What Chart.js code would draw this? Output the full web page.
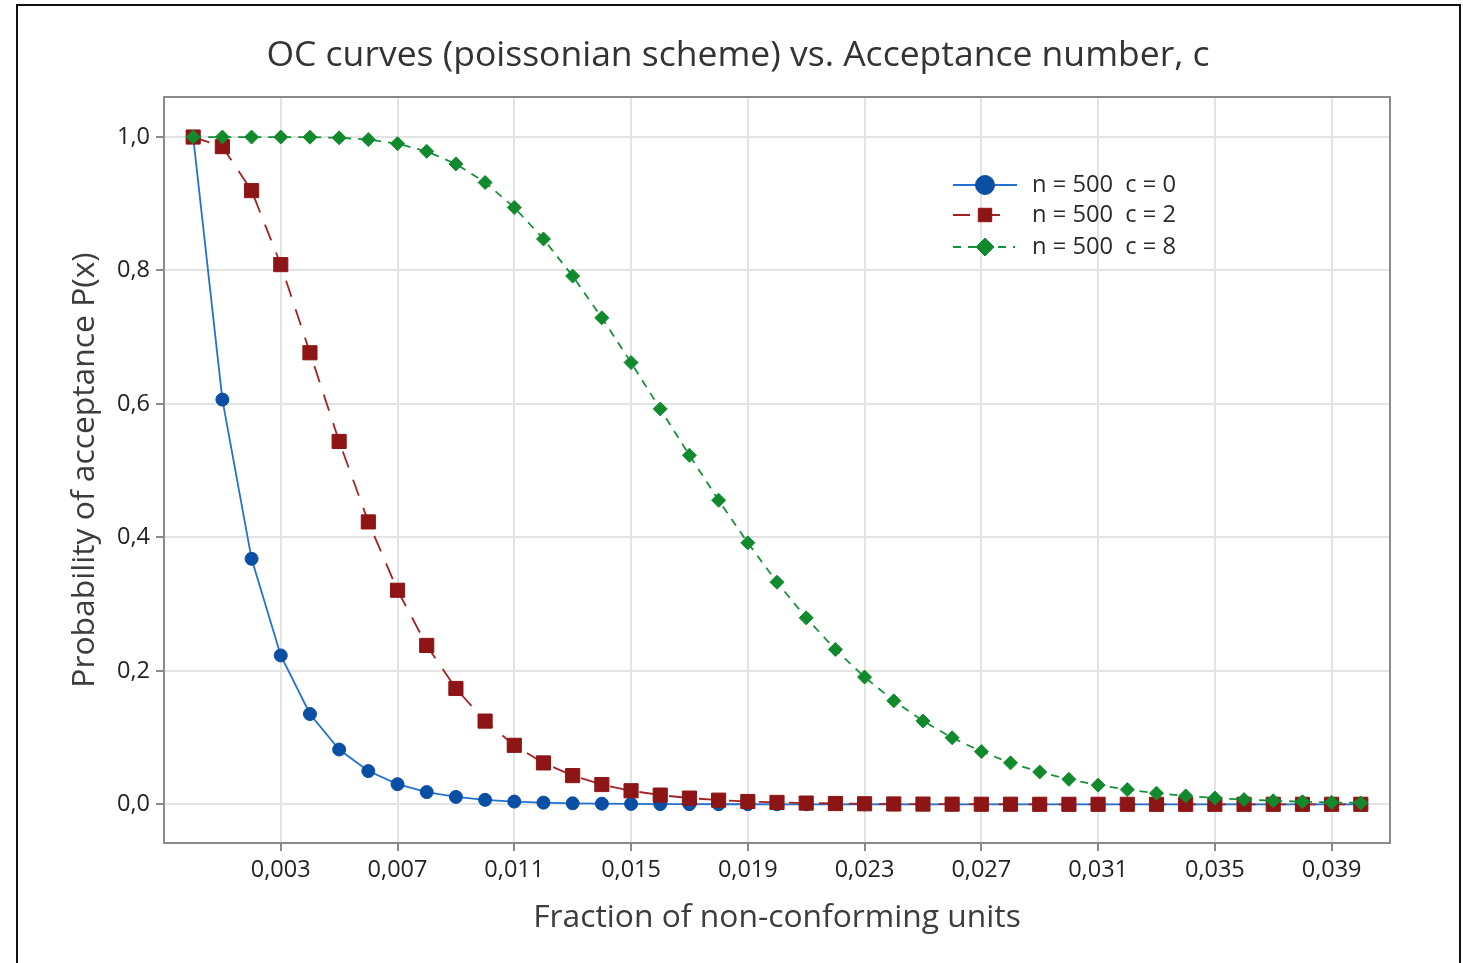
<!DOCTYPE html>
<html>
<head>
<meta charset="utf-8">
<script src="https://cdn.jsdelivr.net/npm/chart.js@4.4.1/dist/chart.umd.min.js"></script>
<style>
  html, body { margin: 0; padding: 0; background: #fff; overflow: hidden; }
  #wrap { position: relative; width: 1463px; height: 963px; }
  #frame {
    position: absolute; left: 16px; top: 4px; width: 1441px; height: 1000px;
    border: 2px solid #111; pointer-events: none;
  }
</style>
</head>
<body>
<div id="wrap">
  <canvas id="chart" width="1463" height="963"></canvas>
  <div id="frame"></div>
</div>
<script>
// fraction of non-conforming units, sampled every 0.001
const fractions = [
  0.000, 0.001, 0.002, 0.003, 0.004, 0.005, 0.006, 0.007, 0.008, 0.009,
  0.010, 0.011, 0.012, 0.013, 0.014, 0.015, 0.016, 0.017, 0.018, 0.019,
  0.020, 0.021, 0.022, 0.023, 0.024, 0.025, 0.026, 0.027, 0.028, 0.029,
  0.030, 0.031, 0.032, 0.033, 0.034, 0.035, 0.036, 0.037, 0.038, 0.039,
  0.040
];

const acceptC0 = [
  1.0000, 0.6065, 0.3679, 0.2231, 0.1353, 0.0821, 0.0498, 0.0302, 0.0183, 0.0111,
  0.0067, 0.0041, 0.0025, 0.0015, 0.0009, 0.0006, 0.0003, 0.0002, 0.0001, 0.0001,
  0.0000, 0.0000, 0.0000, 0.0000, 0.0000, 0.0000, 0.0000, 0.0000, 0.0000, 0.0000,
  0.0000, 0.0000, 0.0000, 0.0000, 0.0000, 0.0000, 0.0000, 0.0000, 0.0000, 0.0000,
  0.0000
];

const acceptC2 = [
  1.0000, 0.9856, 0.9197, 0.8088, 0.6767, 0.5438, 0.4232, 0.3208, 0.2381, 0.1736,
  0.1247, 0.0884, 0.0620, 0.0430, 0.0296, 0.0203, 0.0138, 0.0093, 0.0062, 0.0042,
  0.0028, 0.0018, 0.0012, 0.0008, 0.0005, 0.0003, 0.0002, 0.0001, 0.0001, 0.0000,
  0.0000, 0.0000, 0.0000, 0.0000, 0.0000, 0.0000, 0.0000, 0.0000, 0.0000, 0.0000,
  0.0000
];

const acceptC8 = [
  1.0000, 1.0000, 1.0000, 1.0000, 0.9998, 0.9989, 0.9962, 0.9901, 0.9786, 0.9597,
  0.9319, 0.8944, 0.8472, 0.7916, 0.7291, 0.6620, 0.5925, 0.5231, 0.4557, 0.3918,
  0.3328, 0.2794, 0.2320, 0.1906, 0.1550, 0.1249, 0.0998, 0.0790, 0.0621, 0.0484,
  0.0374, 0.0287, 0.0220, 0.0167, 0.0126, 0.0094, 0.0071, 0.0053, 0.0039, 0.0029,
  0.0021
];

const seriesLabels = ["n = 500  c = 0", "n = 500  c = 2", "n = 500  c = 8"];
const xTicks = [0.003, 0.007, 0.011, 0.015, 0.019, 0.023, 0.027, 0.031, 0.035, 0.039];
const yTicks = [0, 0.2, 0.4, 0.6, 0.8, 1.0];

const FONT = "'Open Sans', 'Noto Sans', 'DejaVu Sans', sans-serif";
const toPoints = (ys) => fractions.map((x, i) => ({ x, y: ys[i] }));
const comma = (v, digits) => v.toFixed(digits).replace(".", ",");

// title, plot frame and legend are drawn by hand to match the original layout
const decorations = {
  id: "decorations",
  afterDraw(chart) {
    const { ctx, chartArea } = chart;
    ctx.save();

    ctx.strokeStyle = "#8a8a8a";
    ctx.lineWidth = 2;
    ctx.strokeRect(chartArea.left, chartArea.top, chartArea.right - chartArea.left, chartArea.bottom - chartArea.top);

    ctx.fillStyle = "#333";
    ctx.font = "35.5px " + FONT;
    ctx.textAlign = "center";
    ctx.textBaseline = "middle";
    ctx.fillText("OC curves (poissonian scheme) vs. Acceptance number, c", 738, 56);

    const rows = [185, 215, 247];
    const lineEnds = [1017, 1005, 1015];
    chart.data.datasets.forEach((ds, i) => {
      const y = rows[i];
      ctx.save();
      ctx.strokeStyle = ds.borderColor;
      ctx.lineWidth = 2;
      ctx.setLineDash(ds.borderDash || []);
      ctx.beginPath();
      ctx.moveTo(953, y);
      ctx.lineTo(lineEnds[i], y);
      ctx.stroke();
      ctx.restore();
      ctx.fillStyle = ds.pointBackgroundColor;
      ctx.strokeStyle = ds.pointBorderColor;
      ctx.lineWidth = 1;
      Chart.helpers.drawPoint(ctx, { pointStyle: ds.pointStyle, radius: ds.legendRadius, borderWidth: 1 }, 985, y);
      ctx.fillStyle = "#2a2a2a";
      ctx.font = "23.7px " + FONT;
      ctx.textAlign = "left";
      ctx.fillText(ds.label, 1032, y);
    });

    ctx.restore();
  },
};

new Chart(document.getElementById("chart"), {
  type: "line",
  data: {
    datasets: [
      {
        label: seriesLabels[0],
        data: toPoints(acceptC0),
        borderColor: "#2372cf",
        borderWidth: 1.8,
        pointStyle: "circle",
        pointRadius: 6.5,
        legendRadius: 9.5,
        pointBackgroundColor: "#0a4fa3",
        pointBorderColor: "#0a4fa3",
        pointBorderWidth: 1,
        order: 2,
      },
      {
        label: seriesLabels[1],
        data: toPoints(acceptC2),
        borderColor: "#a52222",
        borderWidth: 1.8,
        borderDash: [17, 13],
        pointStyle: "rect",
        pointRadius: 10,
        legendRadius: 9.5,
        pointBackgroundColor: "#8e1515",
        pointBorderColor: "#8e1515",
        pointBorderWidth: 1,
        order: 1,
      },
      {
        label: seriesLabels[2],
        data: toPoints(acceptC8),
        borderColor: "#15913a",
        borderWidth: 1.8,
        borderDash: [8, 7],
        pointStyle: "rectRot",
        pointRadius: 7,
        legendRadius: 9,
        pointBackgroundColor: "#118a2e",
        pointBorderColor: "#118a2e",
        pointBorderWidth: 1,
        order: 0,
      },
    ],
  },
  options: {
    responsive: false,
    animation: false,
    layout: { padding: { top: 97, left: 0, right: 73, bottom: 0 } },
    plugins: {
      legend: { display: false },
      title: { display: false },
      tooltip: { enabled: false },
    },
    elements: { line: { tension: 0 } },
    scales: {
      x: {
        type: "linear",
        min: -0.001,
        max: 0.041,
        afterFit: (scale) => { scale.height = 120; },
        afterBuildTicks: (scale) => { scale.ticks = xTicks.map((value) => ({ value })); },
        border: { display: false },
        grid: { color: "#e3e3e3", lineWidth: 2, tickColor: "#8a8a8a", tickLength: 8, tickWidth: 2 },
        ticks: {
          color: "#222",
          font: { family: FONT, size: 23.5 },
          padding: 5,
          maxRotation: 0,
          autoSkip: false,
          callback: (v) => comma(v, 3),
        },
        title: {
          display: true,
          text: "Fraction of non-conforming units",
          color: "#3c3c3c",
          font: { family: FONT, size: 31.8 },
          padding: { top: 0, bottom: 26 },
        },
      },
      y: {
        min: -0.058,
        max: 1.06,
        afterFit: (scale) => { scale.width = 164; },
        afterBuildTicks: (scale) => { scale.ticks = yTicks.map((value) => ({ value })); },
        border: { display: false },
        grid: { color: "#e3e3e3", lineWidth: 2, tickColor: "#8a8a8a", tickLength: 8, tickWidth: 2 },
        ticks: {
          color: "#222",
          font: { family: FONT, size: 23.5 },
          padding: 6,
          callback: (v) => comma(v, 1),
        },
        title: {
          display: true,
          text: "Probability of acceptance P(x)",
          color: "#3c3c3c",
          font: { family: FONT, size: 31.8 },
          padding: { top: 66, bottom: 0 },
        },
      },
    },
  },
  plugins: [decorations],
});
</script>
</body>
</html>
